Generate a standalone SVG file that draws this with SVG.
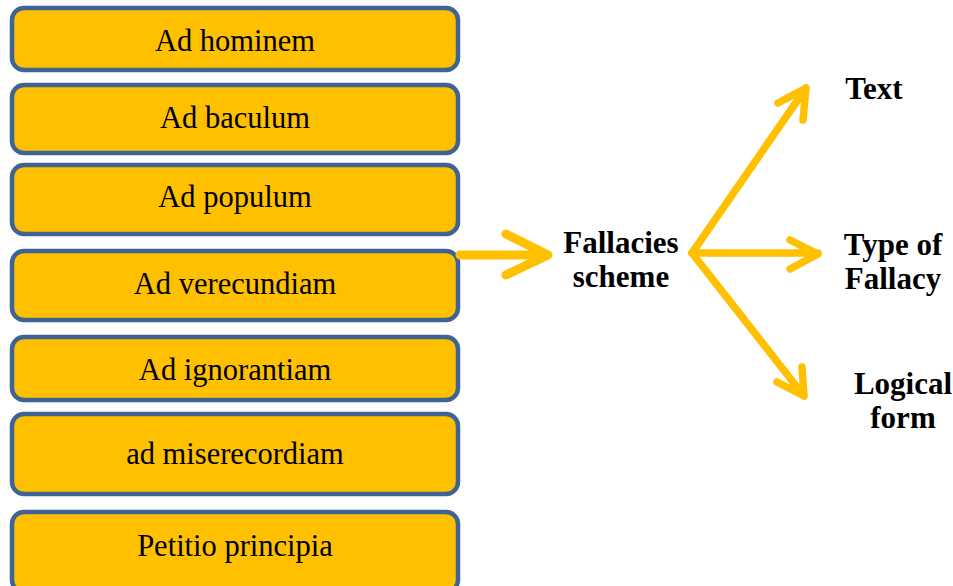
<svg xmlns="http://www.w3.org/2000/svg" width="953" height="586" viewBox="0 0 953 586">
<style>
.box{fill:#FFC000;stroke:#3F6394;stroke-width:4.5}
.bt{font-family:"Liberation Serif",serif;font-size:30.5px;fill:#000;text-anchor:middle;dominant-baseline:central}
.lb{font-family:"Liberation Serif",serif;font-size:31px;font-weight:bold;fill:#000;text-anchor:middle;dominant-baseline:central}
.ar{fill:none;stroke:#FFC000;stroke-width:7.5;stroke-linecap:round;stroke-linejoin:round}
</style>
<rect width="953" height="586" fill="#fff"/>
<g id="n1"><rect class="box" x="12" y="8" width="446" height="62" rx="12"/><text class="bt" x="235" y="41">Ad hominem</text></g>
<g id="n2"><rect class="box" x="12" y="85" width="446" height="68" rx="12"/><text class="bt" x="235" y="118">Ad baculum</text></g>
<g id="n3"><rect class="box" x="12" y="165" width="446" height="69" rx="12"/><text class="bt" x="235" y="197">Ad populum</text></g>
<g id="n4"><rect class="box" x="12" y="251" width="446" height="69" rx="12"/><text class="bt" x="235" y="284">Ad verecundiam</text></g>
<g id="n5"><rect class="box" x="12" y="337" width="446" height="63" rx="12"/><text class="bt" x="235" y="370">Ad ignorantiam</text></g>
<g id="n6"><rect class="box" x="12" y="414" width="446" height="80" rx="12"/><text class="bt" x="235" y="454">ad miserecordiam</text></g>
<g id="n7"><rect class="box" x="12" y="512" width="446" height="80" rx="12"/><text class="bt" x="235" y="546">Petitio principia</text></g>
<g id="center"><text class="lb" x="621" y="242">Fallacies</text><text class="lb" x="621" y="276">scheme</text></g>
<g id="t1"><text class="lb" x="874" y="88">Text</text></g>
<g id="t2"><text class="lb" x="893" y="244">Type of</text><text class="lb" x="893" y="278">Fallacy</text></g>
<g id="t3"><text class="lb" x="903" y="383">Logical</text><text class="lb" x="903" y="417">form</text></g>
<g id="connectors">
<path class="ar" style="stroke-width:9" d="M460 255 H546 M506 234 L548 255 L506 275"/>
<path class="ar" d="M692 253 L806 88 M778 103 L806 88 L803 120"/>
<path class="ar" d="M692 253 H818 M790 240 L818 254 L790 269"/>
<path class="ar" d="M692 253 L804 396 M777 382 L804 396 L802 367"/>
</g>
</svg>
